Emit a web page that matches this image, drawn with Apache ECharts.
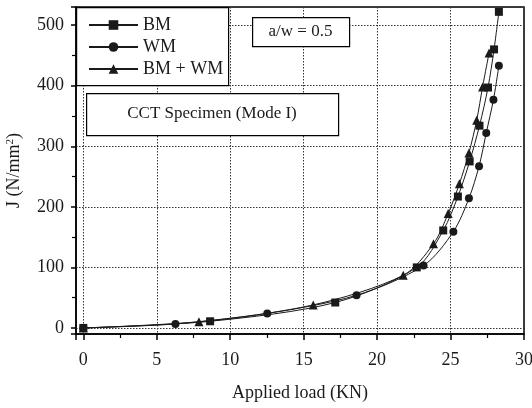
<!DOCTYPE html>
<html>
<head>
<meta charset="utf-8">
<script src="https://cdn.jsdelivr.net/npm/echarts@6/dist/echarts.min.js"></script>
<style>
  html, body { margin: 0; padding: 0; background: #fff; }
  #main { width: 532px; height: 408px; }
</style>
</head>
<body>
<div id="main"></div>
<script>
// applied load (KN) / J (N/mm2)
var bmLoad = [0, 8.63, 17.15, 22.7, 24.5, 25.5, 26.3, 26.97, 27.55, 27.96, 28.29];
var bmJ    = [0, 11, 42, 100, 161, 217, 275, 334, 397, 460, 522];

var wmLoad = [0, 6.27, 12.52, 18.6, 23.16, 25.19, 26.25, 26.94, 27.43, 27.92, 28.29];
var wmJ    = [0, 6.6, 24, 54, 103, 159, 214, 267, 322, 377, 433];

var bwLoad = [0, 7.87, 15.65, 21.78, 23.84, 24.84, 25.6, 26.25, 26.78, 27.18, 27.62];
var bwJ    = [0, 10.4, 38, 87, 139, 189, 238, 289, 343, 398, 454];

var seriesNames = ['BM', 'WM', 'BM + WM'];

function pairs(xs, ys) {
    var out = [];
    for (var i = 0; i < xs.length; i++) {
        out.push([xs[i], ys[i]]);
    }
    return out;
}

var font = 'Liberation Serif';
var ink = '#1a1a1a';

var myChart = echarts.init(document.getElementById('main'));

function mkSeries(name, data, symbol, size) {
    return {
        name: name,
        type: 'line',
        data: data,
        smooth: 0.3,
        symbol: symbol,
        symbolSize: size,
        showSymbol: true,
        lineStyle: { color: ink, width: 1 },
        itemStyle: { color: ink, borderWidth: 0 },
        emphasis: { disabled: true }
    };
}

// boxed text labels in the plot
function textBox(x, y, w, h, txt) {
    return [
        { type: 'rect', left: x, top: y, z: 50,
          shape: { width: w, height: h },
          style: { fill: '#fff', stroke: '#000', lineWidth: 1.2 } },
        { type: 'text', x: x + w / 2, y: y + h / 2, z: 51,
          style: { text: txt, font: '17px "Liberation Serif"', fill: ink,
                   align: 'center', verticalAlign: 'middle' } }
    ];
}

var option = {
    backgroundColor: '#fff',
    animation: false,
    textStyle: { fontFamily: font, color: ink },
    grid: {
        left: 76, right: 8, top: 7, bottom: 74,
        outerBoundsMode: 'none',
        containLabel: false,
        show: true,
        borderColor: '#000',
        borderWidth: 1.5,
        backgroundColor: 'transparent'
    },
    legend: {
        data: seriesNames,
        orient: 'vertical',
        left: 88,
        top: 16,
        padding: 0,
        z: 100,
        itemWidth: 49,
        itemHeight: 12,
        itemGap: 4,
        textStyle: { fontFamily: font, fontSize: 18, color: ink },
        selectedMode: false
    },
    xAxis: {
        type: 'value',
        min: -0.5,
        max: 30,
        name: 'Applied load (KN)',
        nameLocation: 'middle',
        nameGap: 50,
        nameTextStyle: { fontFamily: font, fontSize: 18, color: ink },
        axisLine: { show: true, onZero: false, lineStyle: { color: '#000', width: 1.5 } },
        axisTick: { show: true, inside: false, length: 6, lineStyle: { color: '#000', width: 1.5 } },
        minorTick: { show: true, splitNumber: 2, length: 4, lineStyle: { color: '#000', width: 1.2 } },
        axisLabel: { showMinLabel: false, margin: 17, fontFamily: font, fontSize: 18, color: ink },
        splitLine: { show: true, lineStyle: { color: '#333', type: [1.5, 1.5], width: 1 } }
    },
    yAxis: {
        type: 'value',
        min: -10,
        max: 530,
        name: 'J (N/mm{sup|2})',
        nameLocation: 'middle',
        nameGap: 52,
        nameTextStyle: {
            fontFamily: font, fontSize: 18, color: ink,
            rich: { sup: { fontFamily: font, fontSize: 11, verticalAlign: 'top', padding: [0, 0, 8, 0] } }
        },
        axisLine: { show: true, onZero: false, lineStyle: { color: '#000', width: 1.5 } },
        axisTick: { show: true, inside: false, length: 5, lineStyle: { color: '#000', width: 1.5 } },
        minorTick: { show: true, splitNumber: 2, length: 4, lineStyle: { color: '#000', width: 1.2 } },
        axisLabel: { showMinLabel: false, showMaxLabel: false, margin: 12, fontFamily: font, fontSize: 18, color: ink },
        splitLine: { show: true, lineStyle: { color: '#333', type: [1.5, 1.5], width: 1 } }
    },
    graphic: [
        {
            type: 'rect',
            left: 76, top: 7,
            shape: { width: 152, height: 78 },
            style: { fill: '#fff', stroke: '#000', lineWidth: 1.2 },
            z: 50
        }
    ].concat(textBox(252, 17, 97, 29, 'a/w = 0.5'))
     .concat(textBox(86, 93, 252, 42, 'CCT Specimen (Mode I)')),
    series: [
        mkSeries('BM', pairs(bmLoad, bmJ), 'rect', 8),
        mkSeries('WM', pairs(wmLoad, wmJ), 'circle', 8),
        mkSeries('BM + WM', pairs(bwLoad, bwJ), 'triangle', 9)
    ]
};

myChart.setOption(option);
</script>
</body>
</html>
